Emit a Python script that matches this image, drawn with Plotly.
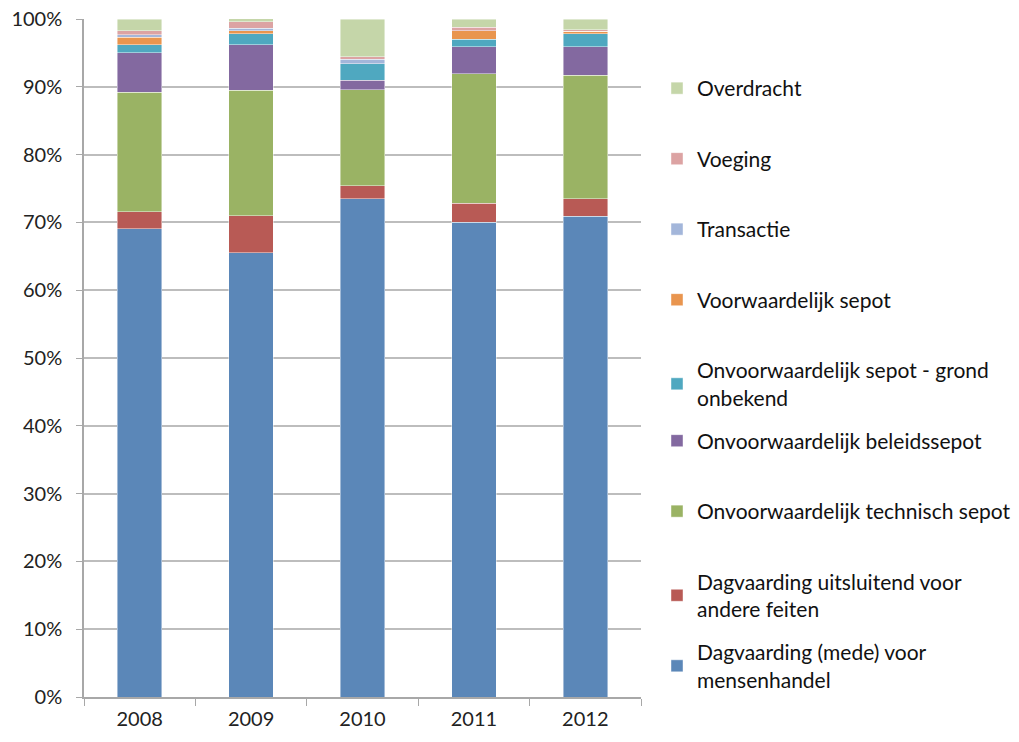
import plotly.graph_objects as go

years = ["2008", "2009", "2010", "2011", "2012"]

# values in percent, bottom to top
dagv_mede = [69.1, 65.5, 73.5, 70.0, 70.9]
dagv_andere = [2.5, 5.5, 1.9, 2.8, 2.6]
technisch = [17.6, 18.5, 14.2, 19.1, 18.2]
beleid = [5.8, 6.7, 1.4, 4.0, 4.2]
grond_onbekend = [1.2, 1.6, 2.4, 1.1, 1.9]
voorwaardelijk = [1.1, 0.5, 0.0, 1.3, 0.4]
transactie = [0.4, 0.3, 0.7, 0.0, 0.0]
voeging = [0.6, 1.0, 0.3, 0.5, 0.2]
overdracht = [1.7, 0.5, 5.6, 1.2, 1.6]

series_names = [
    "Dagvaarding (mede) voor<br>mensenhandel",
    "Dagvaarding uitsluitend voor<br>andere feiten",
    "Onvoorwaardelijk technisch sepot",
    "Onvoorwaardelijk beleidssepot",
    "Onvoorwaardelijk sepot - grond<br>onbekend",
    "Voorwaardelijk sepot",
    "Transactie",
    "Voeging",
    "Overdracht",
]
series_values = [dagv_mede, dagv_andere, technisch, beleid, grond_onbekend,
                 voorwaardelijk, transactie, voeging, overdracht]
colors = ["#5B87B8", "#B85A55", "#9AB364", "#8369A0", "#4FA8C0",
          "#E9954E", "#A3B6DA", "#DCA3A3", "#C5D6A9"]

FONT = "Lato, 'Open Sans', sans-serif"

fig = go.Figure()

# layout geometry (pixels)
W, H = 1019, 742
ml, mr, mt, mb = 84, 378, 19, 45
ph = H - mt - mb
pw = W - ml - mr

legend_ids = ["legend"] + [f"legend{i}" for i in range(2, 10)]
n = len(series_names)
for i, (name, vals, col) in enumerate(zip(series_names, series_values, colors)):
    fig.add_trace(go.Bar(
        x=years, y=[v / 100 for v in vals], name=name,
        marker=dict(color=col, line=dict(color="rgba(255,255,255,0.55)", width=0.8)),
        legend=legend_ids[n - 1 - i],
    ))

layout_legends = {}
for k in range(n):
    center_pix = 84 + 70.5 * k
    top_pix = center_pix - 16
    ypaper = 1 - (top_pix - mt) / ph
    key = legend_ids[k]
    layout_legends[key] = dict(
        x=(657 - ml) / pw, xanchor="left",
        y=ypaper, yanchor="top",
        font=dict(family=FONT, size=21, color="#111111"),
        bgcolor="rgba(0,0,0,0)", itemwidth=30,
        itemclick=False, itemdoubleclick=False,
    )

fig.update_layout(
    barmode="stack",
    bargap=0.6,
    width=W, height=H,
    margin=dict(l=ml, r=mr, t=mt, b=mb, pad=0, autoexpand=False),
    plot_bgcolor="white", paper_bgcolor="white",
    showlegend=True,
    font=dict(family=FONT, size=19, color="#222222"),
    **layout_legends,
)
fig.update_yaxes(
    range=[0, 1], tickformat=".0%", dtick=0.1,
    showgrid=True, gridcolor="#BDBDBD", gridwidth=1.6,
    showline=True, linecolor="#A8A8A8", linewidth=1.5,
    ticks="outside", ticklen=6, tickcolor="#A8A8A8",
    ticklabelstandoff=10, automargin=False,
    zeroline=False, tickfont=dict(family=FONT, size=20, color="#222222"),
)
fig.update_xaxes(
    showline=True, linecolor="#A8A8A8", linewidth=1.5,
    ticks="outside", tickson="boundaries", ticklen=7, tickcolor="#A8A8A8",
    ticklabelstandoff=3, automargin=False,
    tickfont=dict(family=FONT, size=20, color="#222222"),
)

fig.write_html("out.html", config={"displayModeBar": False},
               post_script="document.body.style.margin='0';")
